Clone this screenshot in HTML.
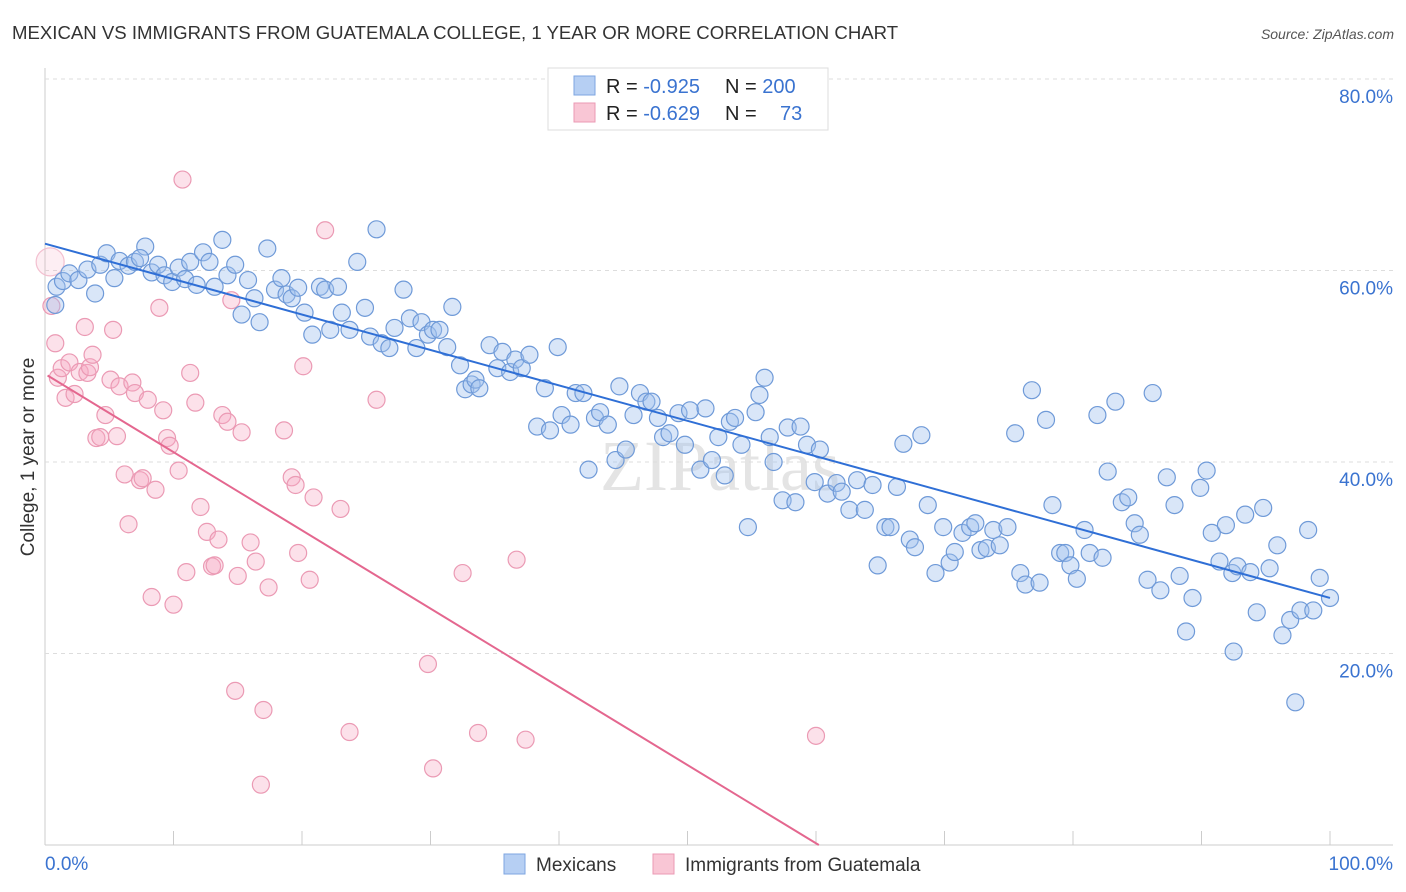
<!DOCTYPE html>
<html><head><meta charset="utf-8">
<style>
body{margin:0;background:#fff;font-family:"Liberation Sans",sans-serif;}
#wrap{position:relative;width:1406px;height:892px;overflow:hidden;}
svg{position:absolute;left:0;top:0;}
</style></head>
<body>
<div id="wrap">
<svg id="chart" width="1406" height="892">
<text x="12" y="39" font-size="18.6" fill="#333">MEXICAN VS IMMIGRANTS FROM GUATEMALA COLLEGE, 1 YEAR OR MORE CORRELATION CHART</text>
<text x="1394" y="39" font-size="14" fill="#555" font-style="italic" text-anchor="end">Source: ZipAtlas.com</text>
<text x="34" y="457" font-size="19" fill="#333" text-anchor="middle" transform="rotate(-90 34 457)">College, 1 year or more</text>
<text x="720" y="490" font-size="72" fill="#e4e4e4" text-anchor="middle" font-family="Liberation Serif,serif">ZIPatlas</text>
<g id="grid"></g><g id="pts"></g><g id="lines"></g>
<g>
<rect x="548" y="68" width="280" height="62" fill="#fff" stroke="#ddd"/>
<rect x="574" y="76" width="21" height="19" fill="#b6cff3" stroke="#7ea6e0"/>
<rect x="574" y="103" width="21" height="19" fill="#f9c6d5" stroke="#eb9ab4"/>
<text x="606" y="93" font-size="20" fill="#222">R = <tspan fill="#3a73d0">-0.925</tspan><tspan x="725">N = </tspan><tspan fill="#3a73d0">200</tspan></text>
<text x="606" y="120" font-size="20" fill="#222">R = <tspan fill="#3a73d0">-0.629</tspan><tspan x="725">N = </tspan><tspan x="780" fill="#3a73d0">73</tspan></text>
</g>
<g>
<rect x="504" y="854" width="21" height="20" fill="#b6cff3" stroke="#7ea6e0"/>
<text x="536" y="871" font-size="19" fill="#333">Mexicans</text>
<rect x="653" y="854" width="21" height="20" fill="#f9c6d5" stroke="#eb9ab4"/>
<text x="685" y="871" font-size="19" fill="#333">Immigrants from Guatemala</text>
</g>
</svg>
</div>
<script>
const yTicks=[20,40,60,80];
const xTickLabels=["0.0%","100.0%"];
const blueX=[0.8,0.9,1.4,1.9,2.6,3.3,3.9,4.3,4.8,5.4,5.8,6.5,7.0,7.8,7.4,8.3,8.8,9.3,9.9,10.4,10.9,11.3,11.8,12.3,12.8,13.2,13.8,14.2,14.8,15.3,15.8,16.3,16.7,17.3,17.9,18.4,18.8,19.2,19.7,20.2,20.8,21.4,21.8,22.2,22.8,23.1,23.7,24.3,24.9,25.3,25.8,26.2,26.8,27.2,27.9,28.4,28.9,29.3,29.8,30.2,30.7,31.3,31.7,32.3,32.7,33.2,33.5,33.8,34.6,35.2,35.6,36.2,36.6,37.1,37.7,38.3,38.9,39.3,39.9,40.2,40.9,41.3,41.9,42.3,42.8,43.2,43.8,44.4,44.7,45.2,45.8,46.3,46.8,47.2,47.7,48.1,48.6,49.3,49.8,50.2,51.0,51.4,51.9,52.4,52.9,53.3,53.7,54.2,54.7,55.3,55.6,56.0,56.4,56.7,57.4,57.8,58.4,58.8,59.3,59.9,60.3,60.9,61.6,62.0,62.6,63.2,63.8,64.4,64.8,65.4,65.8,66.3,66.8,67.3,67.7,68.2,68.7,69.3,69.9,70.4,70.8,71.4,72.0,72.4,72.8,73.3,73.8,74.3,74.9,75.5,75.9,76.3,76.8,77.4,77.9,78.4,79.0,79.4,79.8,80.3,80.9,81.3,81.9,82.3,82.7,83.3,83.8,84.3,84.8,85.2,85.8,86.2,86.8,87.3,87.9,88.3,88.8,89.3,89.9,90.4,90.8,91.4,91.9,92.4,92.8,93.4,93.8,94.3,94.8,95.3,95.9,96.3,96.9,97.3,97.7,98.3,98.7,99.2,100.0,92.5];
const blueY=[56.4,58.3,58.9,59.7,59.0,60.1,57.6,60.6,61.8,59.2,61.0,60.5,60.9,62.5,61.3,59.8,60.6,59.5,58.8,60.3,59.1,60.9,58.5,61.9,60.9,58.3,63.2,59.5,60.6,55.4,59.0,57.1,54.6,62.3,58.0,59.2,57.5,57.1,58.2,55.6,53.3,58.3,58.0,53.8,58.3,55.6,53.8,60.9,56.1,53.1,64.3,52.4,51.9,54.0,58.0,55.0,51.9,54.6,53.3,53.8,53.8,52.0,56.2,50.1,47.6,48.1,48.6,47.7,52.2,49.8,51.5,49.4,50.7,49.8,51.2,43.7,47.7,43.3,52.0,44.9,43.9,47.2,47.2,39.2,44.6,45.2,43.9,40.2,47.9,41.3,44.9,47.2,46.3,46.3,44.6,42.6,43.0,45.1,41.8,45.4,39.2,45.6,40.2,42.6,38.6,44.2,44.6,41.8,33.2,45.2,47.0,48.8,42.6,40.0,36.0,43.6,35.8,43.7,41.8,37.9,41.3,36.7,37.8,36.9,35.0,38.1,35.0,37.6,29.2,33.2,33.2,37.4,41.9,31.9,31.1,42.8,35.5,28.4,33.2,29.5,30.6,32.6,33.2,33.6,30.8,31.0,32.9,31.3,33.2,43.0,28.4,27.2,47.5,27.4,44.4,35.5,30.5,30.5,29.2,27.8,32.9,30.5,44.9,30.0,39.0,46.3,35.8,36.3,33.6,32.4,27.7,47.2,26.6,38.4,35.5,28.1,22.3,25.8,37.3,39.1,32.6,29.6,33.4,28.4,29.1,34.5,28.5,24.3,35.2,28.9,31.3,21.9,23.5,14.9,24.5,32.9,24.5,27.9,25.8,20.2];
const pinkX=[0.4,0.5,0.8,1.0,1.3,1.6,1.9,2.3,2.7,3.1,3.3,3.5,3.7,4.0,4.3,4.7,5.1,5.3,5.6,5.8,6.2,6.5,6.8,7.0,7.4,7.6,8.0,8.3,8.6,8.9,9.2,9.5,9.7,10.0,10.4,10.7,11.0,11.3,11.7,12.1,12.6,13.0,13.2,13.5,13.8,14.2,14.5,14.8,15.0,15.3,16.0,16.4,17.0,17.4,18.6,19.2,19.5,19.7,20.1,20.6,20.9,21.8,23.0,23.7,25.8,29.8,30.2,32.5,33.7,36.7,37.4,60.0,16.8];
const pinkY=[60.9,56.3,52.4,48.8,49.8,46.7,50.4,47.1,49.4,54.1,49.3,49.9,51.2,42.5,42.6,44.9,48.6,53.8,42.7,47.9,38.7,33.5,48.3,47.2,38.1,38.3,46.5,25.9,37.1,56.1,45.4,42.5,41.7,25.1,39.1,69.5,28.5,49.3,46.2,35.3,32.7,29.1,29.2,31.9,44.9,44.2,56.9,16.1,28.1,43.1,31.6,29.6,14.1,26.9,43.3,38.4,37.6,30.5,50.0,27.7,36.3,64.2,35.1,11.8,46.5,18.9,8.0,28.4,11.7,29.8,11.0,11.4,6.3];
const blueTrend=[62.8,25.8];   // y at x=0, x=100
const pinkTrend=[49.2,-0.817]; // intercept, slope

const NS="http://www.w3.org/2000/svg";
const X0=45,X1=1330,Y0=845,PXPER=9.575;
const sx=v=>X0+(X1-X0)*v/100;
const sy=v=>Y0-v*PXPER;
function mk(tag,attrs,parent){const e=document.createElementNS(NS,tag);for(const k in attrs)e.setAttribute(k,attrs[k]);parent.appendChild(e);return e;}
const grid=document.getElementById('grid');
mk('line',{x1:45,y1:68,x2:45,y2:845,stroke:'#ccc'},grid);
mk('line',{x1:45,y1:845,x2:1393,y2:845,stroke:'#ccc'},grid);
for(let i=0;i<=10;i++){const t=mk('line',{x1:sx(i*10),x2:sx(i*10),y1:831,y2:845,stroke:'#ccc'},grid);

}
yTicks.forEach(v=>{const l=mk('line',{x1:45,x2:1393,y1:sy(v),y2:sy(v),stroke:'#ddd','stroke-dasharray':'4,4'},grid);


const t=mk('text',{x:1393,y:sy(v)+24,'font-size':19,fill:'#3a73d0','text-anchor':'end'},grid);t.textContent=v.toFixed(1)+'%';

});
const xl0=mk('text',{x:45,y:870,'font-size':19,fill:'#3a73d0'},grid);xl0.textContent=xTickLabels[0];


const xl1=mk('text',{x:1393,y:870,'font-size':19,fill:'#3a73d0','text-anchor':'end'},grid);xl1.textContent=xTickLabels[1];


const pts=document.getElementById('pts');
pinkX.forEach((x,i)=>{const c=mk('circle',{cx:sx(x),cy:sy(pinkY[i]),r:i===0?14:8.5,fill:i===0?'rgba(245,170,195,0.2)':'rgba(245,170,195,0.35)',stroke:i===0?'#f3c0d0':'#eb9ab4','stroke-width':1.2},pts);

});
blueX.forEach((x,i)=>{const c=mk('circle',{cx:sx(x),cy:sy(blueY[i]),r:8.5,fill:'rgba(160,192,238,0.4)',stroke:'#6f9ad8','stroke-width':1.2},pts);

});
const lines=document.getElementById('lines');
const bl=mk('line',{x1:sx(0),y1:sy(blueTrend[0]),x2:sx(100),y2:sy(blueTrend[1]),stroke:'#2f6fd6','stroke-width':2},lines);


const xe=-pinkTrend[0]/pinkTrend[1];
const pl=mk('line',{x1:sx(0.2),y1:sy(pinkTrend[0]+pinkTrend[1]*0.2),x2:sx(xe),y2:sy(0),stroke:'#e4678f','stroke-width':2},lines);


</script>
</body></html>
